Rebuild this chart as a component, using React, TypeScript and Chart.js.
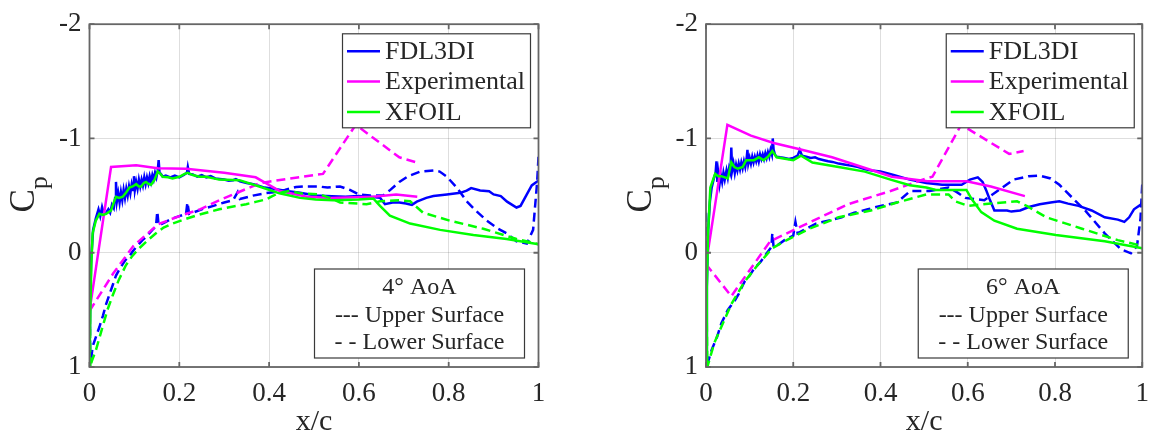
import React, { useEffect, useRef } from 'react';
import { Chart, registerables } from 'chart.js';

Chart.register(...registerables);

// ---------- shared axis / legend content ----------
const xTicks = [0, 0.2, 0.4, 0.6, 0.8, 1];
const yTicks = [-2, -1, 0, 1];
const legendNames = ['FDL3DI', 'Experimental', 'XFOIL'];
const legendColors = ['#0000ff', '#ff00ff', '#00ff00'];
const xTitle = 'x/c';
const yTitleMain = 'C';
const yTitleSub = 'p';
const noteLines4 = ['4\u00B0 AoA', '--- Upper Surface', '- - Lower Surface'];
const noteLines6 = ['6\u00B0 AoA', '--- Upper Surface', '- - Lower Surface'];

// ---------- 4 deg AoA data: [x/c, Cp] ----------
const fdl4Upper: [number, number][] = [
  [0, 0.96], [0.002, 0.34], [0.004, 0.05], [0.008, -0.2], [0.014, -0.3], [0.02, -0.38], [0.024, -0.32],
  [0.028, -0.4], [0.032, -0.34], [0.037, -0.35], [0.042, -0.38], [0.046, -0.35], [0.05, -0.42],
  [0.054, -0.39], [0.057, -0.48], [0.059, -0.62], [0.061, -0.45], [0.064, -0.52], [0.067, -0.44],
  [0.07, -0.53], [0.073, -0.46], [0.076, -0.55], [0.079, -0.48], [0.082, -0.56], [0.085, -0.5],
  [0.088, -0.58], [0.091, -0.52], [0.094, -0.6], [0.097, -0.55], [0.099, -0.67], [0.101, -0.55],
  [0.104, -0.62], [0.107, -0.56], [0.11, -0.64], [0.113, -0.58], [0.116, -0.64], [0.119, -0.59],
  [0.122, -0.66], [0.125, -0.6], [0.128, -0.66], [0.131, -0.61], [0.134, -0.67], [0.137, -0.62],
  [0.14, -0.68], [0.143, -0.64], [0.146, -0.7], [0.149, -0.66], [0.152, -0.72], [0.154, -0.81],
  [0.156, -0.7], [0.159, -0.69], [0.163, -0.665], [0.17, -0.675], [0.18, -0.66], [0.19, -0.675],
  [0.2, -0.66], [0.21, -0.68], [0.217, -0.7], [0.219, -0.75], [0.222, -0.69], [0.23, -0.685],
  [0.24, -0.665], [0.25, -0.68], [0.26, -0.66], [0.27, -0.67], [0.28, -0.65], [0.29, -0.645],
  [0.3, -0.64], [0.31, -0.63], [0.32, -0.635], [0.326, -0.645], [0.335, -0.625], [0.35, -0.61],
  [0.365, -0.6], [0.378, -0.585], [0.39, -0.57], [0.41, -0.56], [0.438, -0.54], [0.469, -0.524],
  [0.504, -0.5], [0.54, -0.495], [0.57, -0.49], [0.599, -0.496], [0.625, -0.49], [0.647, -0.481],
  [0.658, -0.425], [0.675, -0.44], [0.69, -0.439], [0.705, -0.43], [0.718, -0.419], [0.729, -0.447],
  [0.75, -0.48], [0.766, -0.496], [0.796, -0.51], [0.826, -0.524], [0.84, -0.544], [0.85, -0.566],
  [0.87, -0.544], [0.89, -0.538], [0.9, -0.51], [0.916, -0.496], [0.93, -0.447], [0.951, -0.396],
  [0.96, -0.41], [0.974, -0.51], [0.985, -0.589], [0.997, -0.623], [1.0, -0.63],
];
const fdl4Lower: [number, number][] = [
  [0, 0.4], [0.002, 0.97], [0.004, 0.92], [0.007, 0.82], [0.014, 0.74], [0.022, 0.65], [0.03, 0.55],
  [0.037, 0.45], [0.045, 0.36], [0.052, 0.28], [0.059, 0.2], [0.066, 0.15], [0.074, 0.1], [0.081, 0.06],
  [0.089, 0.03], [0.096, -0.01], [0.104, -0.05], [0.111, -0.08], [0.118, -0.11], [0.126, -0.14],
  [0.133, -0.17], [0.14, -0.2], [0.148, -0.23], [0.151, -0.36], [0.154, -0.24], [0.16, -0.25],
  [0.17, -0.27], [0.185, -0.3], [0.2, -0.32], [0.215, -0.34], [0.218, -0.44], [0.222, -0.34],
  [0.23, -0.35], [0.25, -0.38], [0.276, -0.41], [0.3, -0.44], [0.32, -0.46], [0.33, -0.53],
  [0.335, -0.47], [0.364, -0.5], [0.39, -0.52], [0.41, -0.53], [0.435, -0.55], [0.46, -0.575],
  [0.48, -0.58], [0.51, -0.58], [0.53, -0.57], [0.558, -0.58], [0.58, -0.55], [0.6, -0.51],
  [0.625, -0.5], [0.654, -0.5], [0.67, -0.55], [0.69, -0.62], [0.71, -0.67], [0.736, -0.71],
  [0.766, -0.72], [0.78, -0.71], [0.796, -0.665], [0.82, -0.56], [0.84, -0.45], [0.86, -0.37],
  [0.885, -0.28], [0.91, -0.21], [0.929, -0.17], [0.951, -0.1], [0.974, -0.08], [0.988, -0.2],
  [0.997, -0.62], [1.0, -0.84],
];
const exp4Upper: [number, number][] = [
  [0, 0.51], [0.048, -0.75], [0.104, -0.765], [0.152, -0.74], [0.215, -0.735], [0.3, -0.7],
  [0.37, -0.66], [0.424, -0.54], [0.484, -0.49], [0.536, -0.48], [0.631, -0.49], [0.683, -0.51],
  [0.73, -0.49],
];
const exp4Lower: [number, number][] = [
  [0, 0.51], [0.053, 0.18], [0.098, -0.06], [0.153, -0.25], [0.2, -0.32], [0.246, -0.38],
  [0.29, -0.46], [0.38, -0.61], [0.439, -0.645], [0.52, -0.69], [0.593, -1.12], [0.69, -0.835],
  [0.729, -0.79],
];
const xfoil4Upper: [number, number][] = [
  [0, 0.98], [0.002, 0.5], [0.004, 0.1], [0.007, -0.17], [0.014, -0.28], [0.022, -0.34], [0.03, -0.33],
  [0.037, -0.34], [0.048, -0.37], [0.055, -0.45], [0.059, -0.49], [0.066, -0.48], [0.074, -0.49],
  [0.082, -0.53], [0.089, -0.57], [0.096, -0.58], [0.104, -0.6], [0.11, -0.58], [0.115, -0.58],
  [0.121, -0.61], [0.126, -0.62], [0.132, -0.6], [0.137, -0.595], [0.145, -0.64], [0.152, -0.71],
  [0.158, -0.69], [0.163, -0.665], [0.175, -0.66], [0.185, -0.65], [0.2, -0.665], [0.212, -0.69],
  [0.219, -0.7], [0.23, -0.68], [0.245, -0.665], [0.26, -0.665], [0.289, -0.64], [0.334, -0.635],
  [0.378, -0.58], [0.423, -0.52], [0.469, -0.48], [0.504, -0.465], [0.543, -0.46], [0.6, -0.465],
  [0.632, -0.475], [0.647, -0.41], [0.669, -0.325], [0.714, -0.255], [0.781, -0.2], [0.855, -0.155],
  [0.929, -0.12], [1.0, -0.075],
];
const xfoil4Lower: [number, number][] = [
  [0, 0.3], [0.002, 1.0], [0.005, 0.95], [0.0145, 0.85], [0.029, 0.65], [0.04, 0.5], [0.052, 0.37],
  [0.065, 0.24], [0.081, 0.11], [0.095, 0.03], [0.111, -0.04], [0.13, -0.11], [0.148, -0.17],
  [0.165, -0.22], [0.185, -0.255], [0.21, -0.29], [0.237, -0.325], [0.26, -0.35], [0.289, -0.38],
  [0.32, -0.405], [0.349, -0.425], [0.37, -0.445], [0.393, -0.467], [0.405, -0.49], [0.415, -0.51],
  [0.43, -0.53], [0.445, -0.54], [0.469, -0.52], [0.513, -0.51], [0.535, -0.48], [0.558, -0.44],
  [0.617, -0.425], [0.647, -0.45], [0.69, -0.46], [0.714, -0.45], [0.743, -0.35], [0.803, -0.28],
  [0.877, -0.21], [0.951, -0.12], [1.0, -0.075],
];

// ---------- 6 deg AoA data: [x/c, Cp] ----------
const fdl6Upper: [number, number][] = [
  [0, 0.99], [0.002, 0.3], [0.005, -0.2], [0.009, -0.45], [0.013, -0.57], [0.018, -0.65], [0.022, -0.7],
  [0.024, -0.8], [0.026, -0.62], [0.028, -0.7], [0.031, -0.6], [0.034, -0.68], [0.037, -0.62],
  [0.04, -0.7], [0.043, -0.64], [0.047, -0.72], [0.05, -0.66], [0.053, -0.74], [0.056, -0.7],
  [0.058, -0.92], [0.06, -0.72], [0.063, -0.78], [0.066, -0.7], [0.069, -0.77], [0.072, -0.72],
  [0.075, -0.78], [0.078, -0.73], [0.081, -0.79], [0.084, -0.74], [0.087, -0.8], [0.09, -0.75],
  [0.093, -0.82], [0.095, -0.9], [0.097, -0.78], [0.1, -0.83], [0.103, -0.78], [0.106, -0.84],
  [0.109, -0.79], [0.112, -0.84], [0.115, -0.8], [0.118, -0.85], [0.121, -0.8], [0.124, -0.86],
  [0.127, -0.82], [0.13, -0.86], [0.133, -0.82], [0.136, -0.87], [0.139, -0.83], [0.142, -0.88],
  [0.145, -0.84], [0.148, -0.9], [0.151, -0.86], [0.153, -1.0], [0.155, -0.9], [0.158, -0.86],
  [0.162, -0.84], [0.17, -0.835], [0.18, -0.83], [0.19, -0.82], [0.2, -0.83], [0.21, -0.85],
  [0.215, -0.9], [0.22, -0.85], [0.23, -0.84], [0.24, -0.83], [0.25, -0.835], [0.259, -0.82],
  [0.27, -0.81], [0.28, -0.8], [0.29, -0.795], [0.304, -0.78], [0.32, -0.77], [0.335, -0.76],
  [0.349, -0.75], [0.365, -0.73], [0.38, -0.72], [0.4, -0.71], [0.43, -0.68], [0.467, -0.64],
  [0.505, -0.61], [0.541, -0.595], [0.586, -0.595], [0.605, -0.64], [0.623, -0.66], [0.634, -0.62],
  [0.642, -0.55], [0.65, -0.47], [0.661, -0.37], [0.69, -0.37], [0.7, -0.36], [0.72, -0.37],
  [0.74, -0.4], [0.765, -0.425], [0.79, -0.44], [0.81, -0.45], [0.83, -0.43], [0.854, -0.41],
  [0.884, -0.37], [0.914, -0.31], [0.944, -0.29], [0.959, -0.27], [0.97, -0.31], [0.981, -0.38],
  [1.0, -0.43],
];
const fdl6Lower: [number, number][] = [
  [0, -0.35], [0.002, 0.99], [0.013, 0.85], [0.025, 0.74], [0.035, 0.62], [0.05, 0.5], [0.065, 0.425],
  [0.075, 0.36], [0.088, 0.255], [0.1, 0.2], [0.11, 0.14], [0.125, 0.08], [0.14, 0.0], [0.15, -0.05],
  [0.152, -0.17], [0.155, -0.05], [0.162, -0.06], [0.18, -0.11], [0.2, -0.15], [0.205, -0.27],
  [0.21, -0.17], [0.23, -0.21], [0.252, -0.255], [0.28, -0.28], [0.311, -0.31], [0.34, -0.35],
  [0.371, -0.38], [0.4, -0.41], [0.438, -0.44], [0.468, -0.54], [0.512, -0.54], [0.556, -0.57],
  [0.575, -0.53], [0.594, -0.48], [0.638, -0.46], [0.668, -0.54], [0.705, -0.64], [0.74, -0.67],
  [0.765, -0.675], [0.79, -0.65], [0.81, -0.595], [0.84, -0.48], [0.869, -0.37], [0.914, -0.17],
  [0.951, -0.03], [0.974, 0.005], [0.988, -0.06], [0.996, -0.3], [1.0, -0.6],
];
const exp6Upper: [number, number][] = [
  [0, 0.1], [0.049, -1.12], [0.103, -1.025], [0.155, -0.96], [0.215, -0.905], [0.289, -0.835],
  [0.37, -0.735], [0.426, -0.665], [0.508, -0.625], [0.597, -0.625], [0.653, -0.58], [0.731, -0.495],
];
const exp6Lower: [number, number][] = [
  [0, 0.1], [0.058, 0.38], [0.147, -0.1], [0.207, -0.21], [0.326, -0.425], [0.423, -0.54],
  [0.505, -0.65], [0.519, -0.665], [0.585, -1.12], [0.695, -0.865], [0.728, -0.89],
];
const xfoil6Upper: [number, number][] = [
  [0, 0.99], [0.002, 0.3], [0.005, -0.2], [0.01, -0.57], [0.021, -0.69], [0.028, -0.67], [0.035, -0.67],
  [0.05, -0.65], [0.058, -0.79], [0.065, -0.75], [0.073, -0.735], [0.084, -0.75], [0.092, -0.81],
  [0.11, -0.81], [0.121, -0.835], [0.132, -0.81], [0.142, -0.84], [0.152, -0.89], [0.162, -0.835],
  [0.2, -0.81], [0.218, -0.85], [0.244, -0.79], [0.304, -0.75], [0.364, -0.71], [0.423, -0.64],
  [0.467, -0.59], [0.505, -0.57], [0.527, -0.55], [0.597, -0.55], [0.609, -0.47], [0.631, -0.355],
  [0.661, -0.28], [0.713, -0.21], [0.802, -0.155], [0.914, -0.1], [1.0, -0.04],
];
const xfoil6Lower: [number, number][] = [
  [0, 0.0], [0.003, 1.0], [0.019, 0.79], [0.035, 0.65], [0.058, 0.45], [0.088, 0.255], [0.118, 0.11],
  [0.152, -0.04], [0.185, -0.11], [0.237, -0.21], [0.304, -0.31], [0.378, -0.37], [0.438, -0.44],
  [0.505, -0.51], [0.556, -0.51], [0.571, -0.45], [0.601, -0.41], [0.653, -0.43], [0.713, -0.45],
  [0.735, -0.41], [0.78, -0.31], [0.862, -0.21], [0.944, -0.11], [1.0, -0.06],
];

// ---------- styling ----------
const FONT = '"Liberation Serif", "Times New Roman", serif';
const TEXT_COLOR = '#262626';
const AXIS_COLOR = '#666666';
const GRID_COLOR = 'rgba(0,0,0,0.13)';
const DASH = [9, 5];
const LINE_W = 2.5;

type Panel = {
  key: string;
  left: number;
  yAxisWidth: number;
  padRight: number;
  notes: string[];
  series: { pts: [number, number][]; color: string; dashed: boolean; order: number }[];
};

const panels: Panel[] = [
  {
    key: 'a4',
    left: 0,
    yAxisWidth: 89.5,
    padRight: 41.5,
    notes: noteLines4,
    series: [
      { pts: fdl4Upper, color: legendColors[0], dashed: false, order: 2 },
      { pts: fdl4Lower, color: legendColors[0], dashed: true, order: 2 },
      { pts: exp4Upper, color: legendColors[1], dashed: false, order: 1 },
      { pts: exp4Lower, color: legendColors[1], dashed: true, order: 1 },
      { pts: xfoil4Upper, color: legendColors[2], dashed: false, order: 0 },
      { pts: xfoil4Lower, color: legendColors[2], dashed: true, order: 0 },
    ],
  },
  {
    key: 'a6',
    left: 580,
    yAxisWidth: 126,
    padRight: 6.5,
    notes: noteLines6,
    series: [
      { pts: fdl6Upper, color: legendColors[0], dashed: false, order: 2 },
      { pts: fdl6Lower, color: legendColors[0], dashed: true, order: 2 },
      { pts: exp6Upper, color: legendColors[1], dashed: false, order: 1 },
      { pts: exp6Lower, color: legendColors[1], dashed: true, order: 1 },
      { pts: xfoil6Upper, color: legendColors[2], dashed: false, order: 0 },
      { pts: xfoil6Lower, color: legendColors[2], dashed: true, order: 0 },
    ],
  },
];

function framePlugin(panel: Panel) {
  return {
    id: 'frame_' + panel.key,
    afterDraw(chart: any) {
      const { ctx, chartArea: a, scales } = chart;
      const sx = scales.x;
      const sy = scales.y;
      ctx.save();
      ctx.setLineDash([]);

      // axes box
      ctx.strokeStyle = AXIS_COLOR;
      ctx.lineWidth = 1.8;
      ctx.strokeRect(a.left, a.top, a.right - a.left, a.bottom - a.top);

      // inward tick marks
      ctx.beginPath();
      xTicks.forEach((v) => {
        const px = sx.getPixelForValue(v);
        ctx.moveTo(px, a.bottom);
        ctx.lineTo(px, a.bottom - 5);
        ctx.moveTo(px, a.top);
        ctx.lineTo(px, a.top + 5);
      });
      yTicks.forEach((v) => {
        const py = sy.getPixelForValue(v);
        ctx.moveTo(a.left, py);
        ctx.lineTo(a.left + 5, py);
        ctx.moveTo(a.right, py);
        ctx.lineTo(a.right - 5, py);
      });
      ctx.stroke();

      // x title
      ctx.fillStyle = TEXT_COLOR;
      ctx.font = '30px ' + FONT;
      ctx.textAlign = 'center';
      ctx.textBaseline = 'alphabetic';
      ctx.fillText(xTitle, (a.left + a.right) / 2, a.bottom + 63);

      // y title C_p (rotated)
      const cy = (a.top + a.bottom) / 2;
      ctx.save();
      ctx.translate(a.left - 55.5, cy + 17);
      ctx.rotate(-Math.PI / 2);
      ctx.textAlign = 'left';
      ctx.font = '35px ' + FONT;
      ctx.fillText(yTitleMain, 0, 0);
      const cw = ctx.measureText(yTitleMain).width;
      ctx.font = '26px ' + FONT;
      ctx.fillText(yTitleSub, cw, 13);
      ctx.restore();

      // legend box
      const lw = 188;
      const lh = 94;
      const lx = a.right - 8 - lw;
      const ly = a.top + 9.6;
      ctx.fillStyle = '#ffffff';
      ctx.fillRect(lx, ly, lw, lh);
      ctx.strokeStyle = '#3a3a3a';
      ctx.lineWidth = 1.2;
      ctx.strokeRect(lx, ly, lw, lh);
      ctx.font = '26px ' + FONT;
      ctx.textAlign = 'left';
      ctx.textBaseline = 'middle';
      legendNames.forEach((name, i) => {
        const y = ly + 17.5 + 30.3 * i;
        ctx.strokeStyle = legendColors[i];
        ctx.lineWidth = LINE_W;
        ctx.beginPath();
        ctx.moveTo(lx + 4.5, y);
        ctx.lineTo(lx + 37.5, y);
        ctx.stroke();
        ctx.fillStyle = TEXT_COLOR;
        ctx.fillText(name, lx + 42.5, y + 1);
      });

      // annotation box
      const nw = 210;
      const nh = 89;
      const nx = a.right - 14 - nw;
      const ny = a.bottom - 9 - nh;
      ctx.fillStyle = '#ffffff';
      ctx.fillRect(nx, ny, nw, nh);
      ctx.strokeStyle = '#3a3a3a';
      ctx.lineWidth = 1.2;
      ctx.strokeRect(nx, ny, nw, nh);
      ctx.fillStyle = TEXT_COLOR;
      ctx.font = '24px ' + FONT;
      ctx.textAlign = 'center';
      const offs = [18, 46, 72.5];
      panel.notes.forEach((t, i) => {
        ctx.fillText(t, nx + nw / 2, ny + offs[i] + 1);
      });

      ctx.restore();
    },
  };
}

function makeConfig(panel: Panel): any {
  return {
    type: 'scatter',
    data: {
      datasets: panel.series.map((s) => ({
        data: s.pts.map(([x, y]) => ({ x, y })),
        showLine: true,
        borderColor: s.color,
        backgroundColor: s.color,
        borderWidth: LINE_W,
        borderDash: s.dashed ? DASH : [],
        pointRadius: 0,
        pointHoverRadius: 0,
        fill: false,
        tension: 0,
        order: s.order,
      })),
    },
    options: {
      responsive: false,
      animation: false,
      devicePixelRatio: 1,
      events: [],
      layout: { padding: { left: 0, right: panel.padRight, top: 14.7, bottom: 0 } },
      plugins: { legend: { display: false }, tooltip: { enabled: false }, title: { display: false } },
      scales: {
        x: {
          type: 'linear',
          min: 0,
          max: 1,
          afterBuildTicks: (axis: any) => {
            axis.ticks = xTicks.map((v) => ({ value: v }));
          },
          afterFit: (axis: any) => {
            axis.height = 79;
          },
          ticks: {
            font: { family: FONT, size: 27 },
            color: TEXT_COLOR,
            padding: 11,
            maxRotation: 0,
            autoSkip: false,
            callback: (v: any) => String(v),
          },
          grid: { color: GRID_COLOR, lineWidth: 1, drawTicks: false },
          border: { display: false },
        },
        y: {
          type: 'linear',
          min: -2,
          max: 1,
          reverse: true,
          afterBuildTicks: (axis: any) => {
            axis.ticks = yTicks.map((v) => ({ value: v }));
          },
          afterFit: (axis: any) => {
            axis.width = panel.yAxisWidth;
          },
          ticks: {
            font: { family: FONT, size: 27 },
            color: TEXT_COLOR,
            padding: 8,
            autoSkip: false,
            callback: (v: any) => String(v),
          },
          grid: { color: GRID_COLOR, lineWidth: 1, drawTicks: false },
          border: { display: false },
        },
      },
    },
    plugins: [framePlugin(panel)],
  };
}

function PanelChart({ panel }: { panel: Panel }) {
  const ref = useRef<HTMLCanvasElement | null>(null);
  useEffect(() => {
    let chart: Chart | null = null;
    let cancelled = false;
    const build = () => {
      if (cancelled || !ref.current) return;
      chart = new Chart(ref.current, makeConfig(panel));
    };
    const fonts: any = (document as any).fonts;
    if (fonts && fonts.load) {
      Promise.all([fonts.load('26px "Liberation Serif"')]).then(build, build);
    } else {
      build();
    }
    return () => {
      cancelled = true;
      if (chart) chart.destroy();
    };
  }, [panel]);
  return (
    <canvas
      ref={ref}
      width={580}
      height={446}
      style={{ position: 'absolute', left: panel.left, top: 0, width: 580, height: 446 }}
    />
  );
}

export default function App() {
  return (
    <div style={{ position: 'absolute', left: 0, top: 0, width: 1160, height: 446, background: '#ffffff' }}>
      {panels.map((p) => (
        <PanelChart key={p.key} panel={p} />
      ))}
    </div>
  );
}
